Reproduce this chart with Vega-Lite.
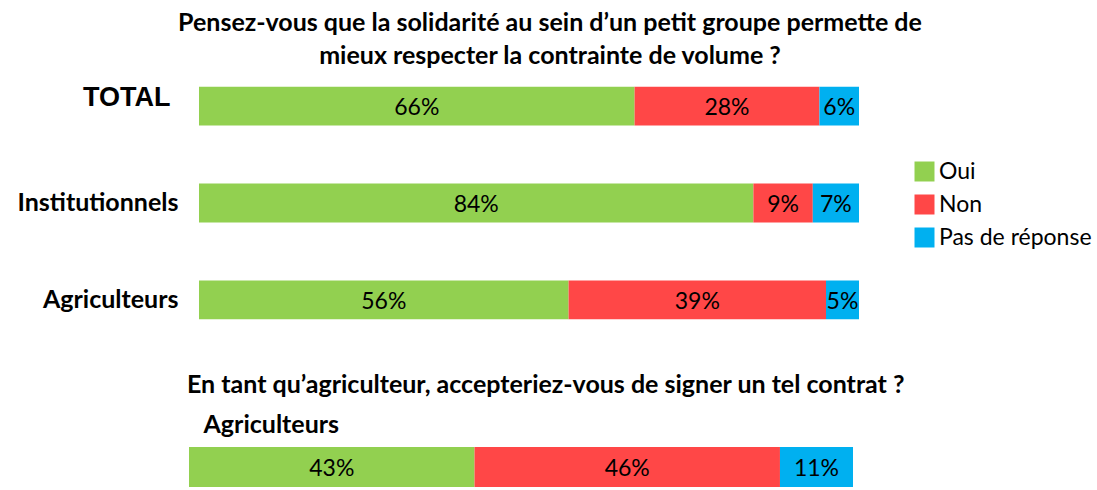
{
  "$schema": "https://vega.github.io/schema/vega-lite/v6.json",
  "autosize": {"type": "none"},
  "padding": {"left": 189, "top": 77, "right": 908, "bottom": 413},
  "background": "white",
  "config": {"view": {"stroke": null}, "font": "Lato"},
  "datasets": {
    "q1": [
      {"group": "TOTAL", "response": "Oui", "rank": 1, "share": 0.66},
      {"group": "TOTAL", "response": "Non", "rank": 2, "share": 0.28},
      {"group": "TOTAL", "response": "Pas de réponse", "rank": 3, "share": 0.06},
      {"group": "Institutionnels", "response": "Oui", "rank": 1, "share": 0.84},
      {"group": "Institutionnels", "response": "Non", "rank": 2, "share": 0.09},
      {"group": "Institutionnels", "response": "Pas de réponse", "rank": 3, "share": 0.07},
      {"group": "Agriculteurs", "response": "Oui", "rank": 1, "share": 0.56},
      {"group": "Agriculteurs", "response": "Non", "rank": 2, "share": 0.39},
      {"group": "Agriculteurs", "response": "Pas de réponse", "rank": 3, "share": 0.05}
    ],
    "q2": [
      {"group": "Agriculteurs", "response": "Oui", "rank": 1, "share": 0.43},
      {"group": "Agriculteurs", "response": "Non", "rank": 2, "share": 0.46},
      {"group": "Agriculteurs", "response": "Pas de réponse", "rank": 3, "share": 0.11}
    ]
  },
  "vconcat": [
    {
      "data": {"name": "q1"},
      "width": 670,
      "height": 252,
      "title": {
        "text": ["Pensez-vous que la solidarité au sein d’un petit groupe permette de", "mieux respecter la contrainte de volume ?"],
        "anchor": "middle",
        "frame": "group",
        "dx": 26,
        "offset": 8,
        "font": "Lato",
        "fontSize": 25,
        "fontWeight": "bold",
        "lineHeight": 33,
        "color": "black"
      },
      "encoding": {
        "y": {
          "field": "group",
          "type": "nominal",
          "sort": ["TOTAL", "Institutionnels", "Agriculteurs"],
          "scale": {"paddingInner": 0.6, "paddingOuter": 0.1},
          "axis": {
            "title": null,
            "domain": false,
            "ticks": false,
            "tickSize": 0,
            "labelPadding": {"condition": {"test": "datum.value === 'TOTAL'", "value": 19}, "value": 11},
            "labelOffset": {"condition": {"test": "datum.value === 'TOTAL'", "value": -8}, "value": 0},
            "labelFont": {"condition": {"test": "datum.value === 'TOTAL'", "value": "Liberation Sans"}, "value": "Lato"},
            "labelFontSize": {"condition": {"test": "datum.value === 'TOTAL'", "value": 27}, "value": 25},
            "labelFontWeight": "bold",
            "labelColor": "black",
            "labelLimit": 300
          }
        },
        "x": {
          "field": "share",
          "type": "quantitative",
          "stack": "zero",
          "scale": {"domain": [-0.01515, 1], "nice": false, "zero": false},
          "axis": null
        },
        "order": {"field": "rank", "type": "quantitative"}
      },
      "layer": [
        {
          "mark": {"type": "bar"},
          "encoding": {
            "color": {
              "field": "response",
              "type": "nominal",
              "scale": {"domain": ["Oui", "Non", "Pas de réponse"], "range": ["#92D050", "#FF4747", "#00B0F0"]},
              "legend": {
                "title": null,
                "orient": "none",
                "legendX": 724,
                "legendY": 83,
                "symbolType": "square",
                "symbolSize": 400,
                "symbolStrokeWidth": 0,
                "symbolOpacity": 1,
                "labelFont": "Lato",
                "labelFontSize": 23,
                "labelColor": "black",
                "labelOffset": 3,
                "labelLimit": 300,
                "rowPadding": 9,
                "padding": 0
              }
            }
          }
        },
        {
          "mark": {"type": "text", "font": "Lato", "fontSize": 23, "color": "black", "baseline": "middle", "dy": 2},
          "encoding": {
            "x": {"field": "share", "type": "quantitative", "stack": "zero", "bandPosition": 0.5},
            "text": {"field": "share", "type": "quantitative", "format": ".0%"}
          }
        }
      ]
    },
    {
      "data": {"name": "q2"},
      "width": 664,
      "height": 40,
      "title": {
        "text": "En tant qu’agriculteur, accepteriez-vous de signer un tel contrat ?",
        "anchor": "start",
        "frame": "group",
        "dx": -2,
        "offset": 15,
        "font": "Lato",
        "fontSize": 25,
        "fontWeight": "bold",
        "color": "black"
      },
      "encoding": {
        "y": {
          "field": "group",
          "type": "nominal",
          "scale": {"paddingInner": 0, "paddingOuter": 0},
          "axis": {
            "title": null,
            "domain": false,
            "ticks": false,
            "tickSize": 0,
            "zindex": 2,
            "labelPadding": -14,
            "labelAlign": "left",
            "labelBaseline": "middle",
            "labelOffset": -42,
            "labelFont": "Lato",
            "labelFontSize": 25,
            "labelFontWeight": "bold",
            "labelColor": "black",
            "labelLimit": 300
          }
        },
        "x": {
          "field": "share",
          "type": "quantitative",
          "stack": "zero",
          "scale": {"domain": [0, 1], "nice": false},
          "axis": null
        },
        "order": {"field": "rank", "type": "quantitative"}
      },
      "layer": [
        {
          "mark": {"type": "bar"},
          "encoding": {
            "color": {
              "field": "response",
              "type": "nominal",
              "scale": {"domain": ["Oui", "Non", "Pas de réponse"], "range": ["#92D050", "#FF4747", "#00B0F0"]},
              "legend": null
            }
          }
        },
        {
          "mark": {"type": "text", "font": "Lato", "fontSize": 23, "color": "black", "baseline": "middle", "dy": 2},
          "encoding": {
            "x": {"field": "share", "type": "quantitative", "stack": "zero", "bandPosition": 0.5},
            "text": {"field": "share", "type": "quantitative", "format": ".0%"}
          }
        }
      ]
    }
  ],
  "spacing": 118,
  "bounds": "flush",
  "resolve": {"scale": {"color": "independent", "x": "independent"}, "legend": {"color": "independent"}}
}
